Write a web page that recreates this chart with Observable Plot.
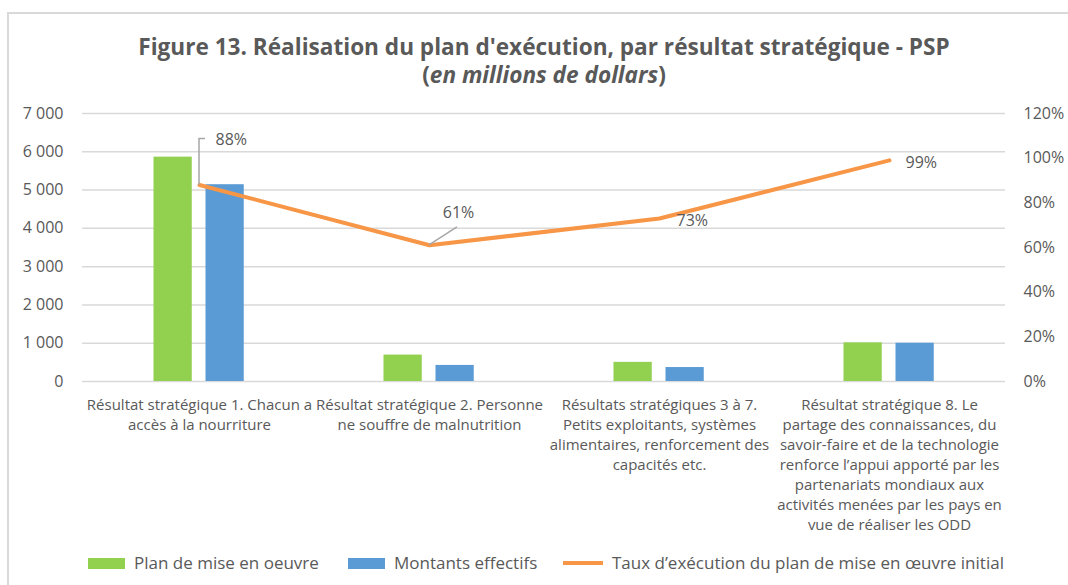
<!DOCTYPE html>
<html><head><meta charset="utf-8">
<script src="https://cdn.jsdelivr.net/npm/d3@7"></script>
<script src="https://cdn.jsdelivr.net/npm/@observablehq/plot@0.6"></script>
<style>
body{margin:0;background:#fff;font-family:"Open Sans",sans-serif;color:#595959;}
#wrap{position:relative;width:1068px;height:585px;overflow:hidden;background:#fff;}
#frame{position:absolute;left:7px;top:12px;width:1200px;height:700px;border:2px solid #d9d9d9;}
#title{position:absolute;left:0;width:1088px;top:33px;text-align:center;font-weight:700;font-size:22.6px;line-height:28px;color:#595959;}
#chart{position:absolute;left:0;top:90px;}
.leg{position:absolute;top:552px;font-size:17px;line-height:22px;color:#595959;white-space:nowrap;display:flex;align-items:center;}
.sw{display:inline-block;width:37px;height:11px;margin-right:9px;}
.ln{display:inline-block;width:40px;height:4px;margin-right:9px;}
</style></head>
<body>
<div id="wrap">
  <div id="frame"></div>
  <div id="title">Figure 13. Réalisation du plan d'exécution, par résultat stratégique - PSP<br>(<i>en millions de dollars</i>)</div>
  <div id="chart"></div>
  <div id="legend"></div>
</div>
<script>
const categories = [
  "Résultat stratégique 1. Chacun a\naccès à la nourriture",
  "Résultat stratégique 2. Personne\nne souffre de malnutrition",
  "Résultats stratégiques 3 à 7.\nPetits exploitants, systèmes\nalimentaires, renforcement des\ncapacités etc.",
  "Résultat stratégique 8. Le\npartage des connaissances, du\nsavoir-faire et de la technologie\nrenforce l’appui apporté par les\npartenariats mondiaux aux\nactivités menées par les pays en\nvue de réaliser les ODD"
];
const planValues = [5860, 690, 500, 1010];
const effectifValues = [5140, 420, 365, 1000];
const tauxValues = [0.88, 0.61, 0.73, 0.99];
const leftTicks = [0, 1000, 2000, 3000, 4000, 5000, 6000, 7000];
const rightTicks = [0, 0.2, 0.4, 0.6, 0.8, 1.0, 1.2];
const seriesNames = ["Plan de mise en oeuvre", "Montants effectifs", "Taux d’exécution du plan de mise en œuvre initial"];

const colors = {plan: "#92d050", eff: "#5b9bd5", taux: "#f79646"};
const yMax = 7000, rMax = 1.2;
const toLeft = r => r * yMax / rMax;
const fmt = d3.formatLocale({decimal: ",", thousands: "\u00a0", grouping: [3], currency: ["", "$"]}).format(",");
const pct = r => Math.round(r * 100) + "%";

const rows = categories.map((c, i) => ({cat: c, plan: planValues[i], eff: effectifValues[i], taux: tauxValues[i]}));

// label offsets (pixels) for the rate labels
const labelStyle = [
  {dx: 16, dy: -45, anchor: "start"},
  {dx: 29, dy: -32, anchor: "middle"},
  {dx: 17, dy: 2, anchor: "start"},
  {dx: 16, dy: 2, anchor: "start"}
];

const plot = Plot.plot({
  width: 1068,
  height: 455,
  marginLeft: 82,
  marginRight: 63,
  marginTop: 23,
  marginBottom: 164,
  style: {fontFamily: "Open Sans", fontSize: "16px", color: "#595959", background: "transparent"},
  x: {type: "band", domain: categories, padding: 0, axis: null},
  y: {domain: [0, yMax], axis: null},
  marks: [
    Plot.gridY(leftTicks, {stroke: "#d9d9d9", strokeOpacity: 1, strokeWidth: 1.5}),
    Plot.axisY(leftTicks, {anchor: "left", tickSize: 0, tickPadding: 19, tickFormat: fmt, fill: "#595959", label: null}),
    Plot.axisY(rightTicks.map(toLeft), {anchor: "right", tickSize: 0, tickPadding: 18, tickFormat: v => pct(v / yMax * rMax), fill: "#595959", label: null}),
    Plot.axisX({tickSize: 0, tickPadding: 14, lineHeight: 1.333, fill: "#595959", fontSize: 15, label: null}),
    Plot.barY(rows, {x: "cat", y: "plan", fill: colors.plan, insetLeft: 69.5, insetRight: 122.25}),
    Plot.barY(rows, {x: "cat", y: "eff", fill: colors.eff, insetLeft: 121.5, insetRight: 70.25}),
    Plot.line(rows, {x: "cat", y: d => toLeft(d.taux), stroke: colors.taux, strokeWidth: 4, strokeLinejoin: "round", strokeLinecap: "round"}),
    ...rows.map((r, i) => Plot.text([r], {
      x: "cat", y: d => toLeft(d.taux), text: d => pct(d.taux),
      dx: labelStyle[i].dx, dy: labelStyle[i].dy, textAnchor: labelStyle[i].anchor,
      fill: "#595959", fontSize: 16
    }))
  ]
});

// leader lines for the first two labels, positioned through the plot's scales
const sx = plot.scale("x"), sy = plot.scale("y");
const cx = c => sx.apply(c) + sx.bandwidth / 2;
const svg = d3.select(plot);
const p0 = rows[0], p1 = rows[1];
svg.append("path")
  .attr("d", `M${cx(p0.cat)},${sy.apply(toLeft(p0.taux))}v-46h6`)
  .attr("fill", "none").attr("stroke", "#a6a6a6").attr("stroke-width", 1.5);
svg.append("path")
  .attr("d", `M${cx(p1.cat)},${sy.apply(toLeft(p1.taux))}l28,-18`)
  .attr("fill", "none").attr("stroke", "#a6a6a6").attr("stroke-width", 1.5);

document.getElementById("chart").appendChild(plot);

// legend
const legend = document.getElementById("legend");
const legLefts = [88, 348, 563];
seriesNames.forEach((name, i) => {
  const item = document.createElement("div");
  item.className = "leg";
  item.style.left = legLefts[i] + "px";
  const mark = document.createElement("span");
  if (i < 2) { mark.className = "sw"; mark.style.background = i === 0 ? colors.plan : colors.eff; }
  else { mark.className = "ln"; mark.style.background = colors.taux; }
  item.appendChild(mark);
  item.appendChild(document.createTextNode(name));
  legend.appendChild(item);
});
</script>
</body></html>
